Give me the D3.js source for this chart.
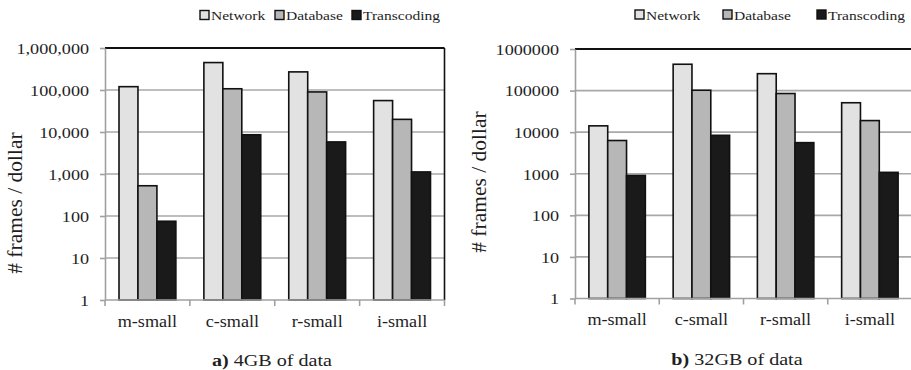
<!DOCTYPE html>
<html><head><meta charset="utf-8">
<script src="https://cdn.jsdelivr.net/npm/d3@7"></script>
<style>
html,body{margin:0;padding:0;background:#fff;}
svg{display:block;}
svg text{font-family:"Liberation Serif","Times New Roman",serif !important;}
</style></head>
<body>
<svg id="chart" width="911" height="370"></svg>
<script>
const categories = ["m-small", "c-small", "r-small", "i-small"];
const seriesNames = ["Network", "Database", "Transcoding"];
const yTicks = [1, 10, 100, 1000, 10000, 100000, 1000000];

// panel a) 4GB of data
const netA = [120000, 450000, 270000, 56000];
const dbA = [525, 107000, 90000, 20000];
const trA = [75, 8600, 5800, 1120];
// panel b) 32GB of data
const netB = [14200, 430000, 255000, 51000];
const dbB = [6300, 102000, 85000, 19000];
const trB = [910, 8400, 5600, 1080];

const captionA = ["a)", " 4GB of data"];
const captionB = ["b)", " 32GB of data"];

const fills = {Network: "#e2e2e2", Database: "#b7b7b7", Transcoding: "#1a1a1a"};
const SX = 1.17;
const FONT = '"Liberation Serif","Times New Roman",serif';
const svg = d3.select("#chart");

function stretchText(parent, x, y, txt, size, anchor, sx) {
  const g = parent.append("g").attr("transform", `translate(${x},${y}) scale(${sx},1)`);
  return g.append("text").attr("text-anchor", anchor).attr("font-size", size)
    .style("font-family", FONT).attr("fill", "#1e1e1e").text(txt);
}

function panel(opts) {
  const {x0, x1, yTop, yBot, data, fmt, legendX, legendY, yTitleX, yTitleY, caption, capX, capY, rightBorder} = opts;
  const g = svg.append("g");
  const x = d3.scaleBand().domain(categories).range([x0, x1]).paddingInner(0).paddingOuter(0);
  const bw = x.bandwidth();
  const xs = d3.scaleBand().domain(seriesNames).range([bw * 0.165, bw * 0.835]).padding(0);
  const y = d3.scaleLog().domain([1, 1e6]).range([yBot, yTop]);

  // gridlines
  g.append("g").selectAll("line").data(yTicks.slice(1, -1)).join("line")
    .attr("x1", x0).attr("x2", Math.min(x1, 911)).attr("y1", d => y(d)).attr("y2", d => y(d))
    .attr("stroke", "#a8a8a8").attr("stroke-width", 1.6);

  // bars
  const rows = categories.map((c, i) => ({cat: c, vals: seriesNames.map((s, j) => ({s, v: data[j][i]}))}));
  const grp = g.append("g").selectAll("g").data(rows).join("g")
    .attr("transform", d => `translate(${x(d.cat)},0)`);
  grp.selectAll("rect").data(d => d.vals).join("rect")
    .attr("x", d => xs(d.s)).attr("width", xs.bandwidth())
    .attr("y", d => y(d.v)).attr("height", d => yBot - y(d.v))
    .attr("fill", d => fills[d.s]).attr("stroke", "#111").attr("stroke-width", 1.6);

  // top border
  g.append("line").attr("x1", x0).attr("x2", x1).attr("y1", yTop).attr("y2", yTop)
    .attr("stroke", "#111").attr("stroke-width", 2);
  if (rightBorder) {
    g.append("line").attr("x1", x1).attr("x2", x1).attr("y1", yTop).attr("y2", yBot)
      .attr("stroke", "#111").attr("stroke-width", 1.6);
  }

  // y axis
  const ya = g.append("g").attr("transform", `translate(${x0},0)`)
    .call(d3.axisLeft(y).tickValues(yTicks).tickSize(5).tickSizeOuter(0).tickFormat(fmt));
  ya.select(".domain").attr("stroke", "#a0a0a0").attr("stroke-width", 1.6);
  ya.selectAll(".tick line").attr("stroke", "#a0a0a0").attr("stroke-width", 1.6);
  ya.selectAll(".tick text").attr("font-size", 15.5).attr("fill", "#1e1e1e")
    .style("font-family", FONT)
    .attr("x", -16 / SX).attr("dy", "0.34em").attr("transform", `scale(${SX},1)`);

  // x axis
  const xa = g.append("g").attr("transform", `translate(0,${yBot})`);
  xa.append("line").attr("x1", x0).attr("x2", Math.min(x1, 911)).attr("stroke", "#a0a0a0").attr("stroke-width", 1.6);
  const bounds = categories.map(c => x(c)).concat([x0 + bw * categories.length]);
  xa.selectAll("line.tk").data(bounds).join("line").attr("class", "tk")
    .attr("x1", d => d).attr("x2", d => d).attr("y1", 0).attr("y2", 6)
    .attr("stroke", "#a0a0a0").attr("stroke-width", 1.6);
  categories.forEach(c => stretchText(g, x(c) + bw / 2, opts.catY, c, 16.5, "middle", 1.1));

  // y title
  g.append("text").attr("transform", `translate(${yTitleX},${yTitleY}) rotate(-90)`)
    .attr("text-anchor", "middle").attr("font-size", 21.5).attr("fill", "#1e1e1e")
    .style("font-family", FONT).text("# frames / dollar");

  // legend
  seriesNames.forEach((s, i) => {
    const lx = legendX[i];
    g.append("rect").attr("x", lx + 1).attr("y", legendY - 5).attr("width", 9).attr("height", 9)
      .attr("fill", fills[s]).attr("stroke", "#111").attr("stroke-width", 1.4);
    stretchText(g, lx + 12, legendY + 4.5, s, 13.5, "start", 1.15);
  });

  // caption
  const cg = g.append("g").attr("transform", `translate(${capX},${capY}) scale(1.15,1)`);
  const ct = cg.append("text").attr("text-anchor", "middle").attr("font-size", 17.5)
    .style("font-family", FONT).attr("fill", "#1e1e1e");
  ct.append("tspan").attr("font-weight", "bold").text(caption[0]);
  ct.append("tspan").text(caption[1]);
}

panel({x0: 105, x1: 444.5, yTop: 48, yBot: 300, data: [netA, dbA, trA], fmt: d3.format(","),
  legendX: [199, 274, 351], legendY: 15.5, yTitleX: 22, yTitleY: 203, catY: 327,
  caption: captionA, capX: 272, capY: 366, rightBorder: true});
panel({x0: 575, x1: 912, yTop: 49, yBot: 298.5, data: [netB, dbB, trB], fmt: d3.format("d"),
  legendX: [634, 722, 816], legendY: 15, yTitleX: 486, yTitleY: 182, catY: 325,
  caption: captionB, capX: 737, capY: 365, rightBorder: false});
</script>
</body></html>
